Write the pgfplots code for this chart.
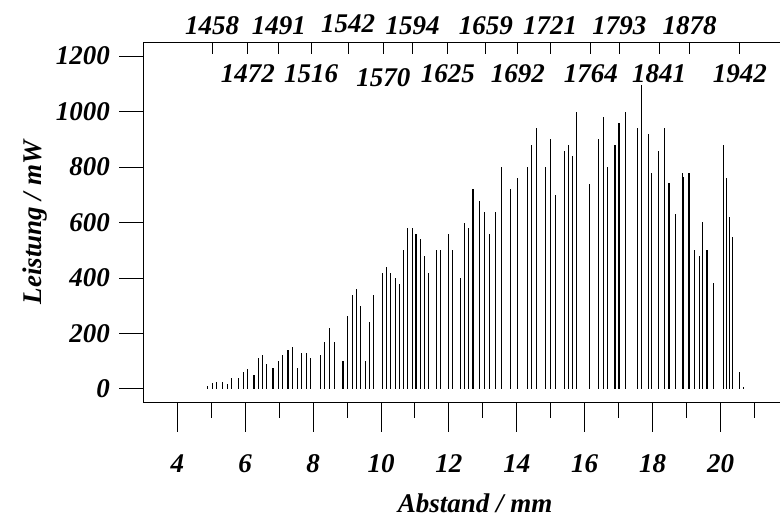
\documentclass[border=0pt]{standalone}
\usepackage{fontspec}
\setmainfont{Liberation Serif}
\usepackage{pgfplots}
\pgfplotsset{compat=1.18}
\usepackage{pgfplotstable}
\pgfplotstableread{
x y
4.88 11
5.03 20
5.15 25
5.32 25
5.48 19
5.61 40
5.81 40
5.94 60
6.07 71
6.26 50
6.39 110
6.52 121
6.63 90
6.82 76
6.98 101
7.10 121
7.26 140
7.39 150
7.54 75
7.66 131
7.80 131
7.93 111
8.21 121
8.34 169
8.48 221
8.63 169
8.88 101
9.01 262
9.15 340
9.28 360
9.40 299
9.54 101
9.67 241
9.78 340
10.04 419
10.17 439
10.29 419
10.42 400
10.54 380
10.66 500
10.79 579
10.92 579
11.03 559
11.16 539
11.29 479
11.39 419
11.64 500
11.74 500
11.98 559
12.10 500
12.33 399
12.46 599
12.58 579
12.71 719
12.91 679
13.06 639
13.20 559
13.37 639
13.56 799
13.82 720
14.02 759
14.31 799
14.44 879
14.58 939
14.85 799
14.98 900
15.15 699
15.41 859
15.53 879
15.65 840
15.77 999
16.15 739
16.40 900
16.55 979
16.67 799
16.89 879
17.01 960
17.21 999
17.55 939
17.67 1095
17.87 919
17.97 779
18.18 859
18.36 939
18.48 743
18.68 631
18.88 779
18.91 765
19.07 779
19.22 501
19.37 479
19.48 601
19.60 501
19.78 381
20.09 879
20.18 759
20.27 619
20.35 549
20.56 60
20.68 8
}\sticks
\newcommand{\lbl}{\fontsize{27}{31}\selectfont\bfseries\itshape}
\pgfplotsset{
  base/.style={
    scale only axis, width=636.7pt, height=360pt,
    xmin=3, xmax=21.75, ymin=-49.4, ymax=1248,
    at={(0pt,0pt)}, anchor=south west,
    /pgf/number format/assume math mode=true,
    /pgf/number format/1000 sep={},
    axis line style={line width=1pt, black},
    every tick/.style={line width=1pt, black},
    tick label style={font=\lbl, inner sep=0pt},
  }
}
\begin{document}
\begin{tikzpicture}
\path[use as bounding box] (-143.3pt,-117.3pt) rectangle (636.7pt,402.7pt);
% main: bottom x axis and sticks
\begin{axis}[base,
  axis x line*=bottom, axis y line=none,
  xtick={4,6,...,20}, minor xtick={5,7,...,21},
  tick align=outside, major tick length=29pt, minor tick length=15pt,
  xticklabel style={anchor=base, yshift=-41pt},
  xlabel={Abstand / mm},
  every axis x label/.style={at={(axis description cs:0.521,-0.2786)}, anchor=center, font=\lbl},
]
\addplot[ycomb, black, line width=1.1pt, no marks] table {\sticks};
\end{axis}
% y axis
\begin{axis}[base,
  axis x line=none, axis y line*=left,
  ytick={0,200,...,1200},
  tick align=outside, major tick length=24pt,
  yticklabel style={anchor=east, xshift=-9.3pt},
  ylabel={Leistung / mW},
  every axis y label/.style={at={(axis description cs:-0.170,0.5)}, rotate=90, anchor=center, font=\lbl},
]
\end{axis}
% top axis, upper labels
\begin{axis}[base,
  axis x line*=top, axis y line=none,
  xtick={5.03,6.99,9.03,10.93,13.09,14.98,17.02,19.09},
  xticklabels={1458,1491,\raisebox{2.5pt}{1542},1594,1659,1721,1793,1878},
  tick align=inside, major tick length=11pt,
  xticklabel style={anchor=base, yshift=8pt},
]
\end{axis}
% top axis, lower labels
\begin{axis}[base,
  axis x line*=top, axis y line=none,
  xtick={6.08,7.94,10.07,11.97,14.03,16.18,18.19,20.57},
  xticklabels={1472,1516,\raisebox{-4pt}{1570},1625,1692,1764,1841,1942},
  tick align=inside, major tick length=11pt,
  xticklabel style={anchor=base, yshift=-40pt},
]
\end{axis}
\end{tikzpicture}
\end{document}
